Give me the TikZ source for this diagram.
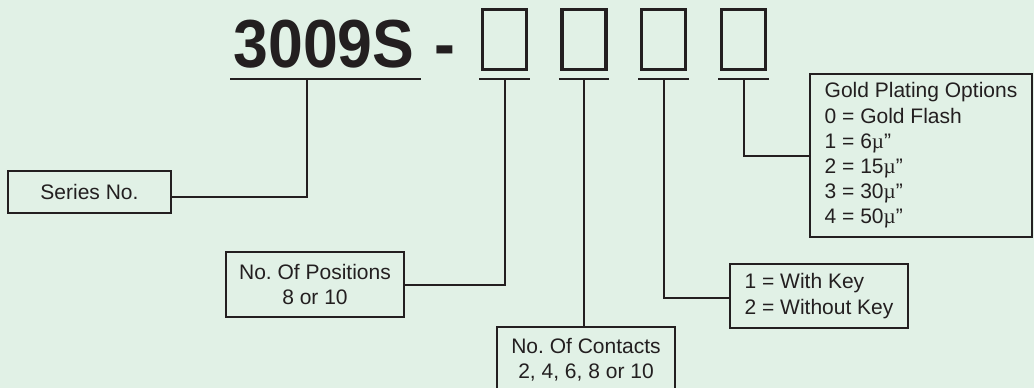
\documentclass[tikz,border=0pt]{standalone}
\usepackage{fontspec}
\setmainfont{Liberation Sans}
\newfontfamily\mufont{Liberation Serif}
\frenchspacing
\definecolor{menta}{RGB}{225,241,230}
\definecolor{tinta}{RGB}{35,31,32}
\newcommand{\mic}{{\mufont µ}”}
\tikzset{
    opcion/.style={draw=tinta, line width=2pt, fill=menta, text=tinta, inner sep=0pt,
        font=\fontsize{21}{25.2}\selectfont, align=center},
    casilla/.style={draw=tinta, line width=3.2pt, minimum width=44, minimum height=60, inner sep=0pt},
    guia/.style={draw=tinta, line width=2pt},
    raya/.style={draw=tinta, line width=2.4pt},
}
\begin{document}
\begin{tikzpicture}[x=1pt, y=-1pt]

    % Fondo
    \fill[menta] (0,0) rectangle (1034,388);
    \useasboundingbox (0,0) rectangle (1034,388);
    \clip (0,0) rectangle (1034,388);

    % 1. Numero de serie y casillas
    \node[anchor=base, text=tinta, font=\fontsize{68}{68}\selectfont\bfseries] (serie) at (324,67) {\scalebox{0.92}[1]{3009S}};
    \node[anchor=base, text=tinta, font=\fontsize{68}{68}\selectfont\bfseries] (guion) at (445,67) {\scalebox{0.92}[1]{-}};
    \foreach \i/\x in {1/504.5, 2/584, 3/663.5, 4/743.5} {
        \node[casilla] (casilla\i) at (\x,39.5) {};
    }

    % 2. Subrayados
    \coordinate (sub) at (0,79);
    \draw[raya] (serie.west |- sub) -- ([xshift=3]serie.east |- sub);
    \foreach \i in {1,...,4} {
        \draw[raya] ([xshift=-1.6]casilla\i.south west |- sub) -- ([xshift=1.6]casilla\i.south east |- sub);
    }

    % 3. Cajas de opciones
    \node[opcion, minimum width=163, minimum height=42] (serieno) at (89.5,192) {Series No.};
    \node[opcion, minimum width=178, minimum height=65] (posiciones) at (315,284.5) {No. Of Positions\\8 or 10};
    \node[opcion, minimum width=178, minimum height=65] (contactos) at (586,359.5) {No. Of Contacts\\2, 4, 6, 8 or 10};
    \node[opcion, align=left, minimum width=178, minimum height=64] (llave) at (819,296) {1 = With Key\\2 = Without Key};
    \node[opcion, align=left, minimum width=222, minimum height=163] (dorado) at (921,155.5)
        {Gold Plating Options\\0 = Gold Flash\\1 = 6\mic\\2 = 15\mic\\3 = 30\mic\\4 = 50\mic};

    % 4. Lineas guia
    \coordinate (t0) at (307,79);
    \draw[guia] (t0) |- ([yshift=-5]serieno.east);
    \draw[guia] (casilla1.south |- sub) |- (posiciones.east);
    \draw[guia] (casilla2.south |- sub) -- (casilla2.south |- contactos.north);
    \draw[guia] (casilla3.south |- sub) |- ([yshift=-2]llave.west);
    \draw[guia] (casilla4.south |- sub) |- (dorado.west);

\end{tikzpicture}
\end{document}
